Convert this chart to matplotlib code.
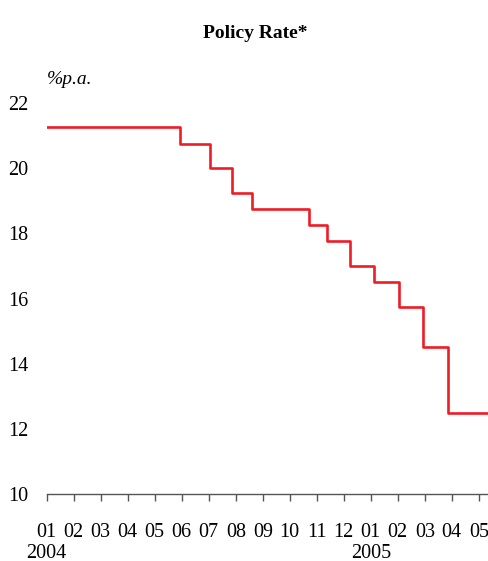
import matplotlib
matplotlib.use("Agg")
import matplotlib.pyplot as plt
import matplotlib.transforms as mtransforms
import numpy as np

plt.rcParams['font.family'] = ['Liberation Serif', 'DejaVu Serif']

# month index since Jan 2004 at which each rate took effect
change_month = [0, 4.94, 6.05, 6.87, 7.6, 9.73, 10.37, 11.23, 12.12, 13.04, 13.93, 14.85, 16.34]
rate = [21.25, 20.75, 20.0, 19.25, 18.75, 18.25, 17.75, 17.0, 16.5, 15.75, 14.5, 12.5, 12.5]

month_labels = ["01", "02", "03", "04", "05", "06", "07", "08", "09", "10", "11", "12",
                "01", "02", "03", "04", "05"]
years = ["2004", "2005"]
year_pos = [0, 12]

fig = plt.figure(figsize=(4.88, 5.61), dpi=100)
ax = fig.add_axes([46.7 / 488, 1 - 494 / 561, 1 - 46.7 / 488, (494 - 103) / 561])

ax.step(change_month, rate, where='post', color='#ee1c25', lw=1.9)

ax.set_xlim(0, 16.34)
ax.set_ylim(10, 22)
ax.set_yticks(np.arange(10, 23, 2))
ax.set_xticks(np.arange(len(month_labels)))
ax.set_xticklabels(month_labels)

for s in ['top', 'right', 'left']:
	ax.spines[s].set_visible(False)
ax.spines['bottom'].set_color('#555555')
ax.spines['bottom'].set_linewidth(1.0)
ax.tick_params(axis='x', direction='out', length=5, width=1.0, color='#555555',
               pad=16, labelsize=14.5)
ax.tick_params(axis='y', length=0, pad=13, labelsize=14.5)

trans = mtransforms.blended_transform_factory(ax.transData, fig.transFigure)
for y, p in zip(years, year_pos):
	ax.text(p, 1 - 553 / 561, y, transform=trans, ha='center', va='center', fontsize=14.5)

fig.text(255 / 488, 1 - 33 / 561, "Policy Rate*", ha='center', va='center',
         fontsize=14, fontweight='bold')
fig.text(47 / 488, 1 - 80 / 561, "%p.a.", ha='left', va='center',
         fontsize=14, style='italic')

plt.savefig('out.png', dpi=100)
